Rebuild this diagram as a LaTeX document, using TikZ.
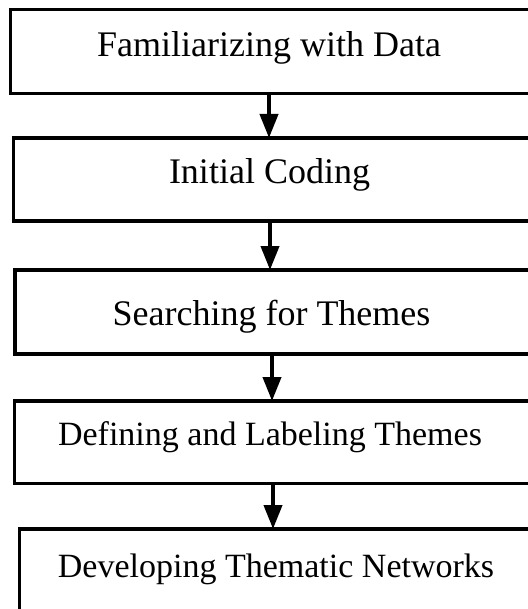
\documentclass[tikz,border=0pt]{standalone}
\usepackage{fontspec}
\setmainfont{Liberation Serif}
\usetikzlibrary{arrows.meta}
\begin{document}
\begin{tikzpicture}[x=1pt,y=-1pt,
  box/.style={draw=black, line width=3.2pt, fill=none, outer sep=0pt, inner sep=0pt, anchor=north west},
  lblbig/.style={anchor=base, inner sep=0pt, font=\fontsize{36}{40}\selectfont},
  lblsmall/.style={anchor=base, inner sep=0pt, font=\fontsize{34}{38}\selectfont},
  arr/.style={line width=4pt, -{Triangle[length=24pt,width=18pt]}}]
\useasboundingbox (0,0) rectangle (527,609);
\fill[white] (0,0) rectangle (527,609);
\node[box, minimum width=534.5pt, minimum height=84pt] (b1) at (10.5,9.5) {};
\node[box, minimum width=531.5pt, minimum height=83pt] (b2) at (13.5,138) {};
\node[box, minimum width=530pt, minimum height=84pt] (b3) at (15,270) {};
\node[box, minimum width=530.5pt, minimum height=82.5pt] (b4) at (14.5,401) {};
\node[box, minimum width=525.5pt, minimum height=101pt] (b5) at (19.5,529) {};
\node[lblbig] (t1) at (269,57) {Familiarizing with Data};
\node[lblbig] (t2) at (269.5,184) {Initial Coding};
\node[lblbig] (t3) at (271.5,325) {Searching for Themes};
\node[lblsmall] (t4) at (270,445) {Defining and Labeling Themes};
\node[lblsmall] (t5) at (276,577) {Developing Thematic Networks};
\coordinate (c1) at (269,0);
\coordinate (c2) at (270,0);
\coordinate (c3) at (272,0);
\coordinate (c4) at (273,0);
\draw[arr] (b1.south -| c1) -- (b2.north -| c1);
\draw[arr] (b2.south -| c2) -- (b3.north -| c2);
\draw[arr] (b3.south -| c3) -- (b4.north -| c3);
\draw[arr] (b4.south -| c4) -- (b5.north -| c4);
\end{tikzpicture}
\end{document}
